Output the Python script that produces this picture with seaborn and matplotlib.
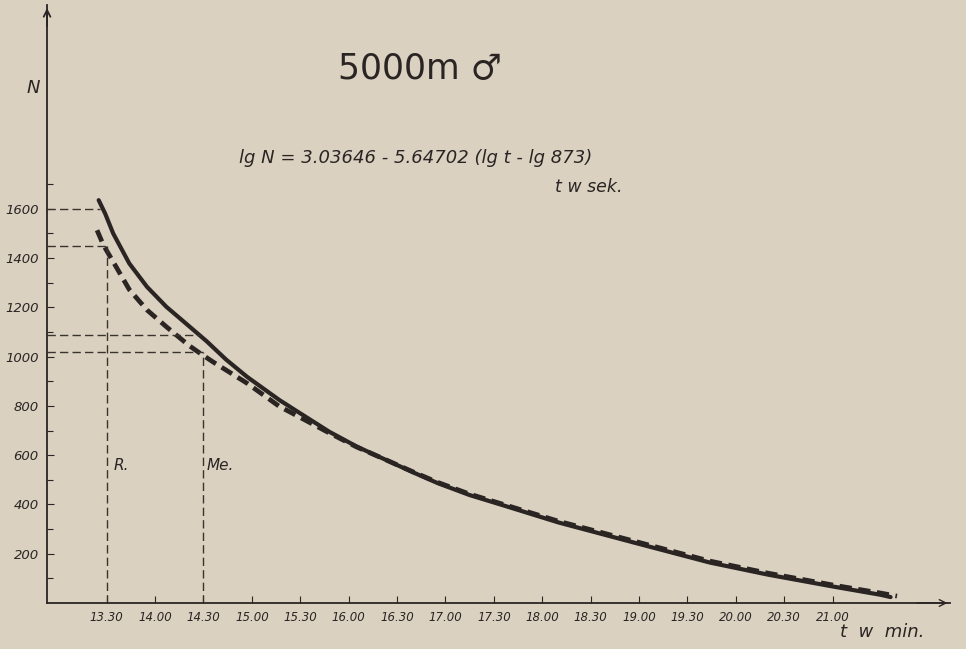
import pandas as pd
import seaborn as sns
import matplotlib.pyplot as plt

# curves: time in seconds, N points
t_solid = [805, 809, 814, 824, 835, 847, 859, 872, 884, 897, 917, 928, 948, 965, 980,
           1000, 1015, 1035, 1054, 1090, 1137, 1184, 1220, 1261, 1290, 1296]
n_solid = [1635, 1581, 1500, 1378, 1283, 1202, 1135, 1062, 988, 918, 824, 778, 695, 635, 590,
           530, 487, 438, 400, 327, 245, 164, 115, 66, 33, 24]

t_dash = [804, 808, 814, 824, 835, 847, 861, 868, 876, 897, 917, 928, 948, 965, 980,
          1000, 1015, 1035, 1054, 1090, 1137, 1184, 1220, 1261, 1290, 1300]
n_dash = [1513, 1452, 1385, 1272, 1189, 1121, 1045, 1013, 978, 892, 798, 760, 690, 633, 590,
          532, 490, 442, 404, 332, 251, 170, 121, 72, 40, 28]

# reference marks (R. = record, Me. = median)
t_rec, t_med = 810, 870
n_rec_solid, n_rec_dash = 1600, 1450
n_med_solid, n_med_dash = 1087, 1018

xtick_sec = [810, 840, 870, 900, 930, 960, 990, 1020, 1050, 1080, 1110, 1140, 1170, 1200, 1230, 1260]
xtick_lab = ["13.30", "14.00", "14.30", "15.00", "15.30", "16.00", "16.30", "17.00", "17.30",
             "18.00", "18.30", "19.00", "19.30", "20.00", "20.30", "21.00"]
ytick_val = [200, 400, 600, 800, 1000, 1200, 1400, 1600]

paper = "#dbd1c1"
ink = "#2a2523"

sns.set_theme(style="ticks")
plt.rcParams["font.family"] = ["DejaVu Sans"]

fig = plt.figure(figsize=(9.66, 6.49), dpi=100, facecolor=paper)
ax = fig.add_axes([0.0487, 0.0709, 0.935, 0.921])
ax.set_facecolor(paper)

df_s = pd.DataFrame({"t": t_solid, "N": n_solid})
df_d = pd.DataFrame({"t": t_dash, "N": n_dash})
sns.lineplot(data=df_s, x="t", y="N", ax=ax, color=ink, lw=3.0, estimator=None)
sns.lineplot(data=df_d, x="t", y="N", ax=ax, color=ink, lw=3.4, estimator=None,
             linestyle=(0, (2.6, 1.4)))

guide = dict(color="#3a3431", lw=1.0, linestyle=(0, (6, 3)))
ax.plot([773, t_rec - 4], [n_rec_solid, n_rec_solid], **guide)
ax.plot([773, t_rec], [n_rec_dash, n_rec_dash], **guide)
ax.plot([t_rec, t_rec], [0, n_rec_dash], **guide)
ax.plot([773, t_med - 2], [n_med_solid, n_med_solid], **guide)
ax.plot([773, t_med], [n_med_dash, n_med_dash], **guide)
ax.plot([t_med, t_med], [0, n_med_dash], **guide)

ax.text(t_rec + 4, 560, "R.", style="italic", fontsize=11, color=ink, va="center")
ax.text(t_med + 2, 560, "Me.", style="italic", fontsize=11, color=ink, va="center")

ax.set_xlim(773, 1333)
ax.set_ylim(0, 2426)
ax.set_xticks(xtick_sec)
ax.set_xticklabels(xtick_lab, style="italic", fontsize=8.5, color=ink)
ax.set_yticks(ytick_val)
ax.set_yticklabels([str(v) for v in ytick_val], style="italic", fontsize=9.5, color=ink)
ax.set_yticks(range(100, 1800, 100), minor=True)
ax.tick_params(axis="both", direction="in", length=5, width=0.8, color=ink, pad=6)
ax.tick_params(axis="y", which="minor", direction="in", length=4, width=0.8, color=ink)
ax.set_xlabel("")
ax.set_ylabel("")

sns.despine(ax=ax)
for s in ["left", "bottom"]:
    ax.spines[s].set_color(ink)
    ax.spines[s].set_linewidth(1.3)

ax.annotate("", xy=(1.0, 0), xytext=(0.96, 0), xycoords="axes fraction",
            arrowprops=dict(arrowstyle="->", color=ink, lw=1.0))
ax.annotate("", xy=(0, 1.0), xytext=(0, 0.96), xycoords="axes fraction",
            arrowprops=dict(arrowstyle="->", color=ink, lw=1.3))

fig.text(0.034, 0.865, "N", style="italic", fontsize=13, color=ink, ha="center", va="center")
fig.text(0.435, 0.893, "5000m \u2642", fontsize=25, color=ink, ha="center", va="center")
fig.text(0.43, 0.757, "lg N = 3.03646 - 5.64702 (lg t - lg 873)", style="italic",
         fontsize=13, color=ink, ha="center", va="center")
fig.text(0.575, 0.712, "t w sek.", style="italic", fontsize=12.5, color=ink, ha="left", va="center")
fig.text(0.87, 0.026, "t  w  min.", style="italic", fontsize=13, color=ink, ha="left", va="center")

fig.savefig("out.png", dpi=100, facecolor=paper)
